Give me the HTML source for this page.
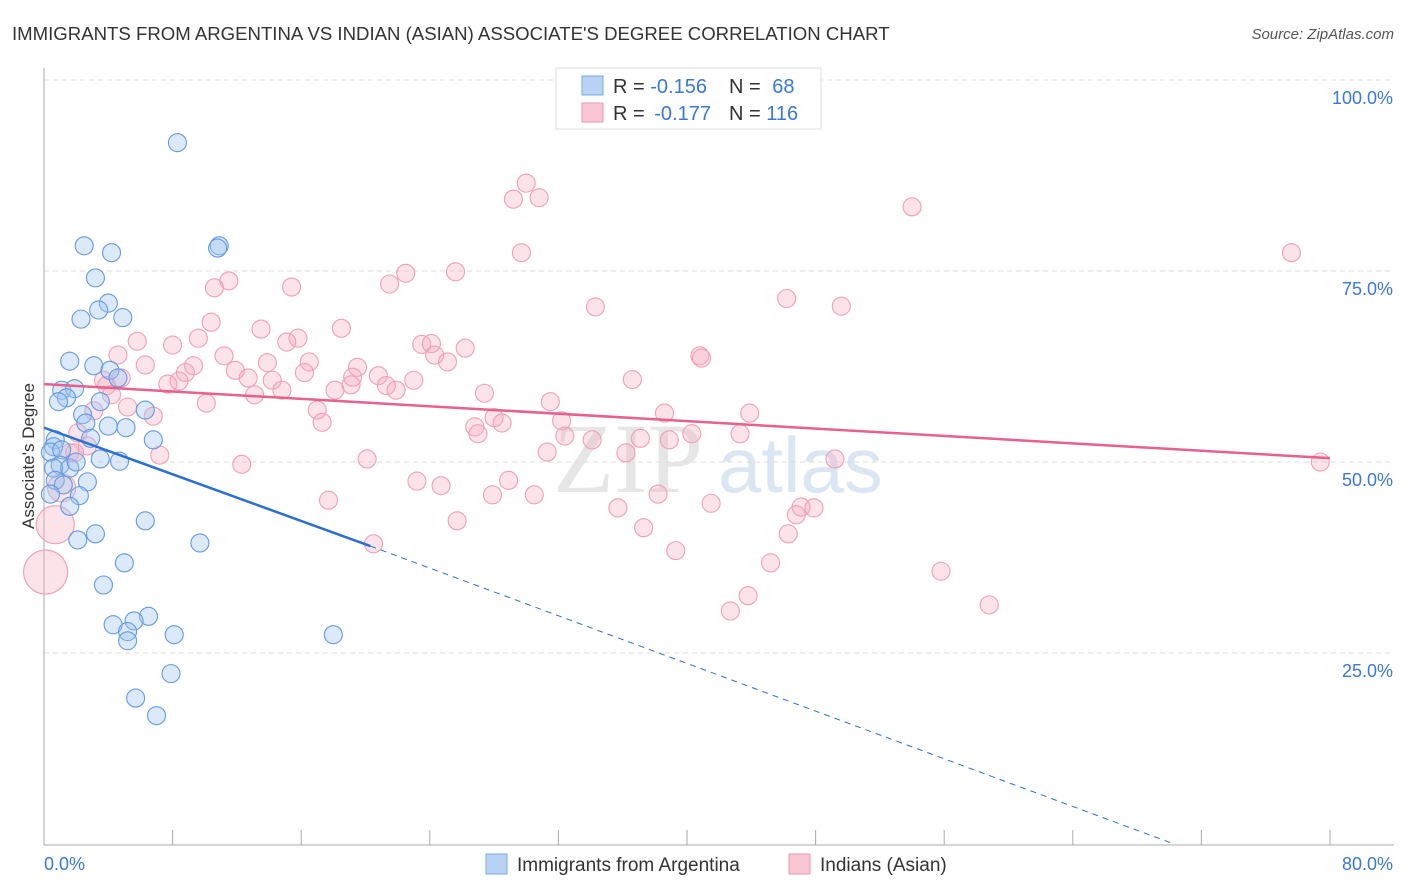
<!DOCTYPE html>
<html><head><meta charset="utf-8"><style>
body{margin:0;background:#fff;font-family:"Liberation Sans",sans-serif;}
#wrap{position:relative;width:1406px;height:892px;overflow:hidden;}
</style></head><body>
<div id="wrap">
<svg id="chart" width="1406" height="892" xmlns="http://www.w3.org/2000/svg">
<text x="12" y="40" font-size="18.6" fill="#333">IMMIGRANTS FROM ARGENTINA VS INDIAN (ASIAN) ASSOCIATE'S DEGREE CORRELATION CHART</text>
<text x="1394" y="39" font-size="15" fill="#555" font-style="italic" text-anchor="end">Source: ZipAtlas.com</text>
<text x="0" y="0" transform="translate(34,456) rotate(-90)" font-size="17" fill="#333" text-anchor="middle">Associate's Degree</text>
<text x="553" y="492" font-size="100" fill="#e6e6e6" font-family="Liberation Serif,serif">ZIP</text>
<text x="718" y="492" font-size="78" fill="#dbe6f3">atlas</text>
<g id="grid"></g><g id="axes"></g><g id="pink"></g><g id="blue"></g><g id="lines"></g>
<g>
<rect x="556" y="68" width="265" height="61" fill="#fff" stroke="#ddd"/>
<rect x="582" y="76" width="21" height="19" fill="#b9d3f5" stroke="#7aa8e8"/>
<rect x="582" y="103" width="21" height="19" fill="#fbc6d4" stroke="#ee9ab2"/>
<text x="613" y="93" font-size="20" fill="#333">R = <tspan fill="#3a78d8">-0.156</tspan></text>
<text x="729" y="93" font-size="20" fill="#333">N = <tspan fill="#3a78d8" dx="6">68</tspan></text>
<text x="613" y="120" font-size="20" fill="#333">R = <tspan fill="#3a78d8" dx="4">-0.177</tspan></text>
<text x="729" y="120" font-size="20" fill="#333">N = <tspan fill="#3a78d8">116</tspan></text>
</g>
<g>
<rect x="486" y="854" width="21" height="20" fill="#b9d3f5" stroke="#7aa8e8"/>
<text x="517" y="871" font-size="19" fill="#333">Immigrants from Argentina</text>
<rect x="789" y="854" width="21" height="20" fill="#fbc6d4" stroke="#ee9ab2"/>
<text x="820" y="871" font-size="19" fill="#333">Indians (Asian)</text>
</g>
</svg>
</div>
<script>
const yTicks=[25,50,75,100];
const yTickLabels=["25.0%","50.0%","75.0%","100.0%"];
const xTicks=[0,8,16,24,32,40,48,56,64,72,80];
const blueX=[8.3,2.5,4.2,10.9,10.8,3.2,4.0,3.4,2.3,4.9,1.6,3.1,4.1,4.6,1.1,1.9,1.4,0.9,3.5,2.4,6.3,2.6,4.0,5.1,2.9,0.7,0.6,0.4,6.8,1.1,3.5,4.7,1.0,0.6,1.6,2.0,0.7,2.7,1.2,2.2,0.4,1.6,6.3,3.2,2.1,9.7,5.0,3.7,6.5,5.6,4.3,5.2,5.2,8.1,18.0,7.9,5.7,7.0];
const blueY=[91.8,78.3,77.4,78.3,78.0,74.1,70.8,69.9,68.7,68.9,63.2,62.6,62.0,61.0,59.4,59.6,58.4,57.9,57.9,56.2,56.8,55.1,54.7,54.5,53.1,52.9,52.0,51.3,52.9,51.6,50.4,50.1,49.6,49.2,49.2,50.0,47.6,47.4,47.0,45.6,45.8,44.2,42.3,40.6,39.8,39.4,36.8,33.9,29.8,29.2,28.7,27.8,26.6,27.4,27.4,22.3,19.1,16.8];
const pinkX=[30.0,29.2,30.8,54.0,77.6,29.7,22.5,25.6,11.5,10.6,15.4,21.5,46.2,49.6,34.3,10.4,13.5,18.5,15.8,15.1,9.6,5.8,8.0,23.5,24.1,26.2,24.3,25.1,40.8,40.9,4.6,11.2,16.5,13.9,6.3,9.3,8.8,11.9,16.2,19.5,19.2,20.8,23.0,12.7,14.2,8.4,7.7,3.7,4.8,3.9,36.6,19.1,21.3,21.9,14.8,18.1,27.4,13.1,4.2,10.1,31.5,5.2,3.1,17.0,6.8,38.6,43.9,28.0,32.2,17.3,26.8,28.5,27.0,2.1,32.4,40.3,43.3,34.1,37.1,38.9,2.7,1.6,1.9,31.3,36.2,7.2,20.1,49.2,79.4,12.3,23.2,24.7,28.9,38.2,27.9,30.5,17.7,41.5,35.7,47.1,47.9,46.8,25.7,37.3,46.3,20.5,39.3,45.2,55.8,43.8,42.7,58.8,0.7,0.1,1.1];
const pinkY=[86.5,84.4,84.6,83.4,77.4,77.4,74.7,74.9,73.7,72.8,72.9,73.3,71.4,70.4,70.3,68.3,67.4,67.5,66.2,65.7,66.2,65.8,65.3,65.4,65.5,64.9,64.0,63.1,63.9,63.6,64.0,63.9,63.1,63.0,62.7,62.6,61.7,62.0,61.7,62.4,61.1,61.3,60.7,61.0,60.7,60.6,60.2,60.7,61.0,60.0,60.8,60.1,60.0,59.4,59.4,59.4,59.0,58.8,58.8,57.7,57.9,57.2,56.7,56.8,56.0,56.4,56.4,55.8,55.4,55.2,54.6,55.1,53.7,53.8,53.4,53.7,53.7,52.9,53.1,52.9,52.1,51.2,51.2,51.3,51.2,50.9,50.4,50.4,50.0,49.7,47.5,46.9,47.6,45.8,45.7,45.7,45.0,44.6,44.0,44.1,44.0,43.1,42.3,41.4,40.6,39.3,38.4,36.8,35.7,32.5,30.5,31.3,41.8,35.6,46.6];
const pinkR=[];for(let i=0;i<pinkX.length;i++)pinkR.push(9);
pinkR[pinkR.length-3]=19;pinkR[pinkR.length-2]=22;pinkR[pinkR.length-1]=14;
const blueTrend=[54.5,39.0,0];const blueTrendX=[0,20.3,70.3];
const pinkTrend=[60.2,50.5];const pinkTrendX=[0,80];

const NS="http://www.w3.org/2000/svg";
const sx=v=>44+v/80*1286, sy=v=>844-v/100*764;
function mk(tag,attrs,parent){const e=document.createElementNS(NS,tag);for(const k in attrs)e.setAttribute(k,attrs[k]);document.getElementById(parent).appendChild(e);return e;}
let g=mk('line',{x1:44,x2:1394,y1:sy(100),y2:sy(100),stroke:'#ddd','stroke-dasharray':'5,4'},'grid');


yTicks.forEach((t,i)=>{
 const l=mk('line',{x1:44,x2:1394,y1:sy(t),y2:sy(t),stroke:'#ddd','stroke-dasharray':'5,4'},'grid');
 
 
 const tx=mk('text',{x:1393,y:sy(t)+24,'font-size':18,fill:'#3a78d8','text-anchor':'end'},'axes');
 tx.textContent=yTickLabels[i];
 
 
});
let ax=mk('line',{x1:44,x2:44,y1:68,y2:845,stroke:'#aaa'},'axes');


ax=mk('line',{x1:44,x2:1394,y1:845,y2:845,stroke:'#aaa'},'axes');


xTicks.forEach(t=>{
 const l=mk('line',{x1:sx(t),x2:sx(t),y1:830,y2:845,stroke:'#aaa'},'axes');
 
 
});
let xl=mk('text',{x:44,y:870,'font-size':18,fill:'#3a78d8'},'axes');xl.textContent='0.0%';


xl=mk('text',{x:1393,y:870,'font-size':18,fill:'#3a78d8','text-anchor':'end'},'axes');xl.textContent='80.0%';


pinkX.forEach((x,i)=>{
 const c=mk('circle',{cx:sx(x),cy:sy(pinkY[i]),r:pinkR[i],fill:'rgba(246,170,192,0.33)',stroke:'#ef9fb6','stroke-width':1.1},'pink');
 
 
});
blueX.forEach((x,i)=>{
 const c=mk('circle',{cx:sx(x),cy:sy(blueY[i]),r:9,fill:'rgba(160,196,240,0.38)',stroke:'#6399e2','stroke-width':1.1},'blue');
 
 
});
let ln=mk('line',{x1:sx(pinkTrendX[0]),y1:sy(pinkTrend[0]),x2:sx(pinkTrendX[1]),y2:sy(pinkTrend[1]),stroke:'#e8608c','stroke-width':2.5},'lines');


ln=mk('line',{x1:sx(blueTrendX[0]),y1:sy(blueTrend[0]),x2:sx(blueTrendX[1]),y2:sy(blueTrend[1]),stroke:'#2a6fd6','stroke-width':2.5},'lines');


ln=mk('line',{x1:sx(blueTrendX[1]),y1:sy(blueTrend[1]),x2:sx(blueTrendX[2]),y2:sy(blueTrend[2]),stroke:'#2a6fd6','stroke-width':1,'stroke-dasharray':'6,5'},'lines');


</script>
</body></html>
